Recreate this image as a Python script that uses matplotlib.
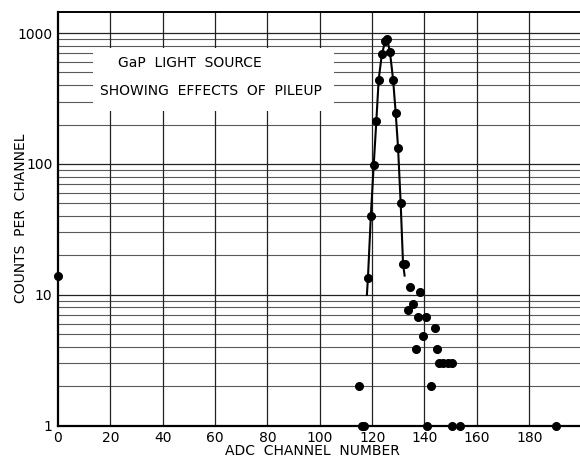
import matplotlib.pyplot as plt
import matplotlib.patches as mpatches

# mesured points (channel, counts)
canal = [0, 115, 116.3, 117.0, 118.4, 119.5, 120.6, 121.6, 122.5, 123.7, 125.0, 125.8,
         126.8, 128.0, 129.0, 129.9, 130.9, 131.8, 132.4, 133.7, 134.4, 135.5, 136.6,
         137.5, 138.4, 139.6, 140.7, 141.1, 142.4, 144.0, 144.7, 145.5, 147.2, 149.0,
         150.5, 150.4, 153.4, 190.3]
cuentas = [14, 2, 1, 1, 13.5, 40, 98, 213, 442, 688, 870, 896,
           716, 442, 245, 133, 50, 17.3, 17.3, 7.6, 11.5, 8.5, 3.85,
           6.7, 10.5, 4.8, 6.7, 1, 2, 5.6, 3.85, 3, 3, 3,
           3, 1, 1, 1]

# hand drawn curve through the peak
curva_canal = [118.0, 118.4, 119.5, 120.6, 121.6, 122.5, 123.7, 125.0, 125.8,
               126.8, 128.0, 129.0, 129.9, 130.9, 131.8, 132.4]
curva_cuentas = [10, 13.5, 40, 98, 213, 442, 688, 870, 896,
                 716, 442, 245, 133, 50, 17.3, 14]

xticks = [0, 20, 40, 60, 80, 100, 120, 140, 160, 180]
yticks = [1, 10, 100, 1000]
ytick_labels = ['1', '10', '100', '1000']

fig = plt.figure(figsize=(5.8, 4.62), dpi=100)
ax = fig.add_axes([0.1, 0.079, 0.9, 0.896])

ax.set_yscale('log')
ax.set_xlim(0, 199.4)
ax.set_ylim(1, 1462)

# papel log: lineas
for d in [1, 10, 100, 1000]:
    for m in range(1, 10):
        v = d * m
        if v < 1 or v > 1462:
            continue
        if m == 1:
            ax.axhline(v, color='#222222', lw=0.9, zorder=1)
        else:
            ax.axhline(v, color='#5a5a5a', lw=0.8, zorder=1)
for x in xticks[1:]:
    ax.axvline(x, color='#222222', lw=0.9, zorder=1)

# recuadro blanco del titulo
caja = mpatches.Rectangle((13.5, 255), 92, 770 - 255, facecolor='white',
                          edgecolor='none', zorder=2)
ax.add_patch(caja)
ax.text(23, 590, 'GaP  LIGHT  SOURCE', fontsize=10, ha='left', va='center', zorder=3)
ax.text(16, 360, 'SHOWING  EFFECTS  OF  PILEUP', fontsize=10, ha='left', va='center', zorder=3)

ax.plot(curva_canal, curva_cuentas, color='black', lw=1.5, zorder=4)
ax.plot(canal, cuentas, 'o', color='black', ms=5.5, zorder=5, clip_on=False)

ax.set_xticks(xticks)
ax.set_xticklabels([str(x) for x in xticks], fontsize=10)
ax.set_yticks(yticks)
ax.set_yticklabels(ytick_labels, fontsize=10)
ax.minorticks_off()
ax.tick_params(length=0, pad=4)

ax.spines['right'].set_visible(False)
ax.spines['left'].set_linewidth(1.6)
ax.spines['bottom'].set_linewidth(1.6)
ax.spines['top'].set_linewidth(1.4)

ax.set_xlabel('ADC  CHANNEL  NUMBER', fontsize=10)
ax.set_ylabel('COUNTS  PER  CHANNEL', fontsize=10)
ax.xaxis.set_label_coords(0.487, -0.045)
ax.yaxis.set_label_coords(-0.057, 0.5)

fig.savefig('out.png', dpi=100)
